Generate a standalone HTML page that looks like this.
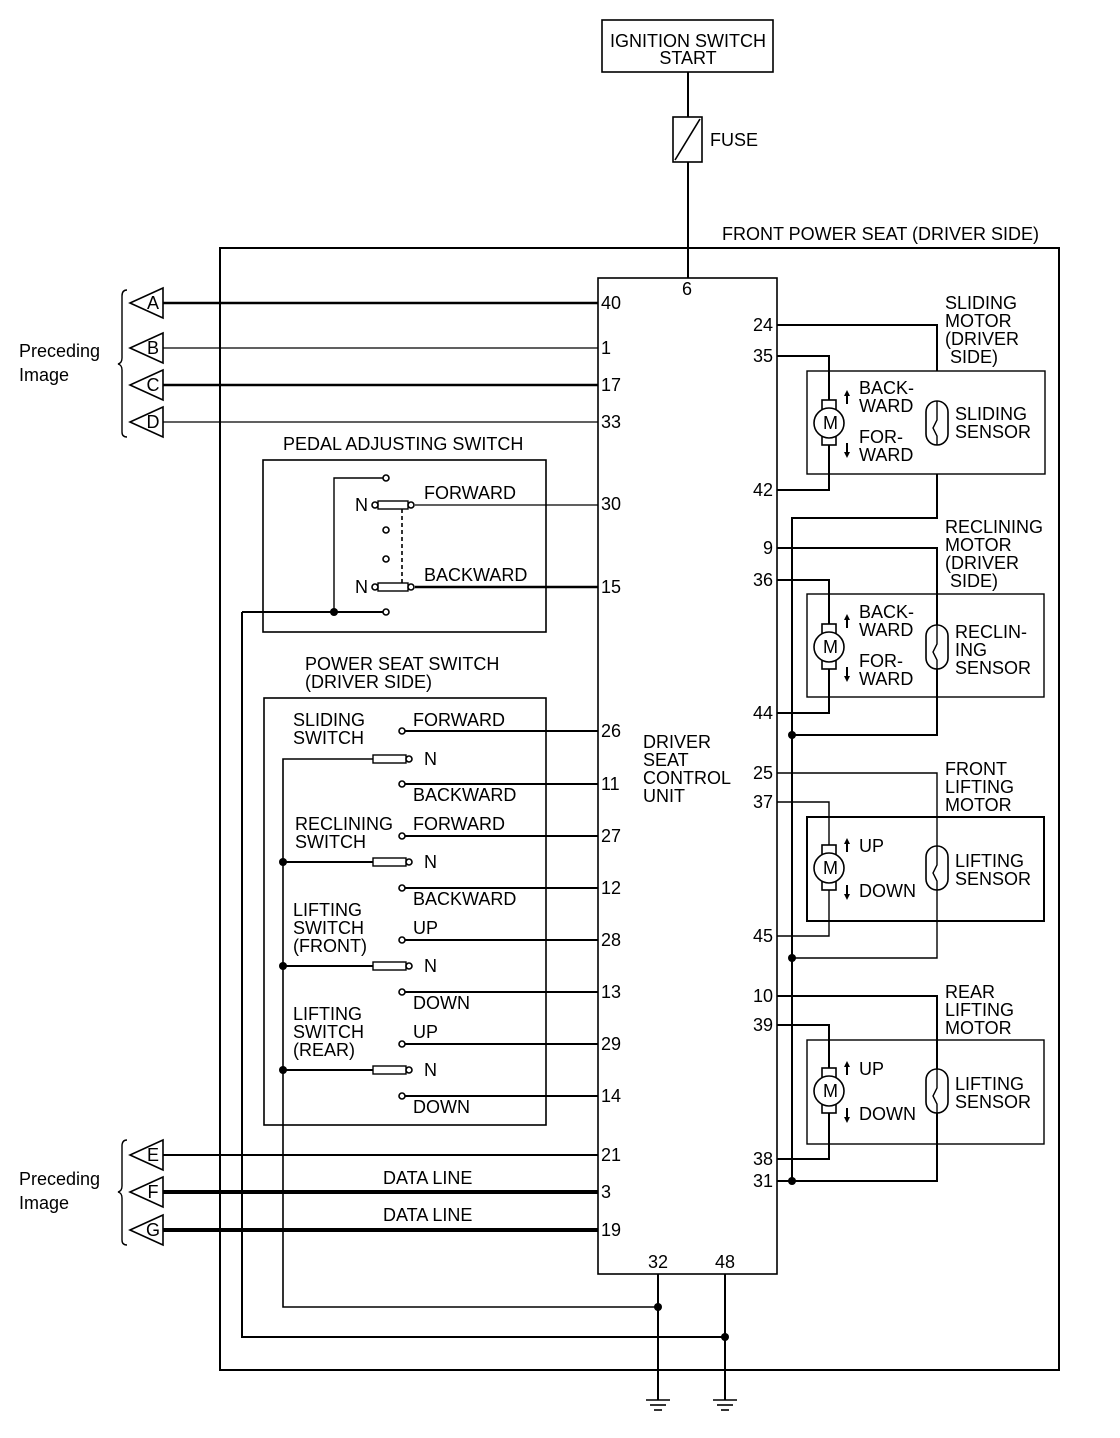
<!DOCTYPE html>
<html><head><meta charset="utf-8"><style>
html,body{margin:0;padding:0;background:#fff}
svg{display:block}
text{font-family:"Liberation Sans",sans-serif;font-size:18px;fill:#000}
</style></head><body>
<svg width="1120" height="1438" viewBox="0 0 1120 1438" xmlns="http://www.w3.org/2000/svg">
<g fill="none" stroke="#000" stroke-width="1.6">
<rect x="602" y="20" width="171" height="52"/>
<line x1="688" y1="72" x2="688" y2="117" stroke-width="2"/>
<rect x="673" y="117" width="29" height="45"/>
<line x1="675" y1="160" x2="700" y2="119"/>
<line x1="688" y1="162" x2="688" y2="278" stroke-width="2"/>
<rect x="220" y="248" width="839" height="1122" stroke-width="2"/>
<rect x="598" y="278" width="179" height="996"/>
<path d="M163 288 L130 303 L163 318 Z"/>
<path d="M163 333 L130 348 L163 363 Z"/>
<path d="M163 370 L130 385 L163 400 Z"/>
<path d="M163 407 L130 422 L163 437 Z"/>
<path d="M163 1140 L130 1155 L163 1170 Z"/>
<path d="M163 1177 L130 1192 L163 1207 Z"/>
<path d="M163 1215 L130 1230 L163 1245 Z"/>
<path d="M127 290 Q122 290 122 296 L122 358 Q122 363 118 364 Q122 365 122 370 L122 432 Q122 437 127 437" stroke-width="1.4"/>
<path d="M127 1140 Q122 1140 122 1146 L122 1186 Q122 1191 118 1192 Q122 1193 122 1198 L122 1240 Q122 1245 127 1245" stroke-width="1.4"/>
<line x1="163" y1="303" x2="598" y2="303" stroke-width="2.4"/>
<line x1="163" y1="348" x2="598" y2="348" stroke-width="1.2"/>
<line x1="163" y1="385" x2="598" y2="385" stroke-width="2.4"/>
<line x1="163" y1="422" x2="598" y2="422" stroke-width="1.2"/>
<line x1="163" y1="1155" x2="598" y2="1155" stroke-width="2"/>
<line x1="163" y1="1192" x2="598" y2="1192" stroke-width="4"/>
<line x1="163" y1="1230" x2="598" y2="1230" stroke-width="4"/>
<rect x="263" y="460" width="283" height="172"/>
<polyline points="383,478 334,478 334,612" stroke-width="1.4"/>
<line x1="242" y1="612" x2="383" y2="612" stroke-width="2"/>
<polyline points="242,612 242,1337 725,1337" stroke-width="2"/>
<rect x="378" y="501" width="30" height="8" stroke-width="1.4"/>
<rect x="378" y="583" width="30" height="8" stroke-width="1.4"/>
<line x1="402" y1="509" x2="402" y2="583" stroke-dasharray="4,3" stroke-width="1.6"/>
<line x1="415" y1="505" x2="598" y2="505" stroke-width="1.2"/>
<line x1="415" y1="587" x2="598" y2="587" stroke-width="2.4"/>
<rect x="264" y="698" width="282" height="427"/>
<polyline points="373,759 283,759 283,1307 658,1307" stroke-width="1.6"/>
<line x1="283" y1="862" x2="373" y2="862" stroke-width="2"/>
<line x1="283" y1="966" x2="373" y2="966" stroke-width="2"/>
<line x1="283" y1="1070" x2="373" y2="1070" stroke-width="2"/>
<rect x="373" y="755" width="33" height="8" stroke-width="1.4"/>
<rect x="373" y="858" width="33" height="8" stroke-width="1.4"/>
<rect x="373" y="962" width="33" height="8" stroke-width="1.4"/>
<rect x="373" y="1066" width="33" height="8" stroke-width="1.4"/>
<g stroke-width="2">
<line x1="405" y1="731" x2="598" y2="731"/>
<line x1="405" y1="784" x2="598" y2="784"/>
<line x1="405" y1="836" x2="598" y2="836"/>
<line x1="405" y1="888" x2="598" y2="888"/>
<line x1="405" y1="940" x2="598" y2="940"/>
<line x1="405" y1="992" x2="598" y2="992"/>
<line x1="405" y1="1044" x2="598" y2="1044"/>
<line x1="405" y1="1096" x2="598" y2="1096"/>
</g>
<line x1="658" y1="1274" x2="658" y2="1400" stroke-width="2"/>
<line x1="725" y1="1274" x2="725" y2="1400" stroke-width="2"/>
<line x1="646" y1="1400" x2="670" y2="1400"/><line x1="650" y1="1405" x2="666" y2="1405"/><line x1="654" y1="1410" x2="662" y2="1410"/>
<line x1="713" y1="1400" x2="737" y2="1400"/><line x1="717" y1="1405" x2="733" y2="1405"/><line x1="721" y1="1410" x2="729" y2="1410"/>
<polyline points="937,474 937,518 792,518 792,1181" stroke-width="2"/>
<polyline points="777,325 937,325 937,371" stroke-width="2"/>
<polyline points="777,356 829,356 829,400" stroke-width="2"/>
<polyline points="829,445 829,490 777,490" stroke-width="2"/>
<rect x="807" y="371" width="238" height="103" stroke-width="1.4"/>
<polyline points="777,548 937,548 937,735 792,735" stroke-width="2"/>
<polyline points="777,580 829,580 829,624" stroke-width="2"/>
<polyline points="829,669 829,713 777,713" stroke-width="2"/>
<rect x="807" y="594" width="237" height="103" stroke-width="1.4"/>
<polyline points="777,773 937,773 937,958 792,958" stroke-width="1.4"/>
<polyline points="777,802 829,802 829,845" stroke-width="1.4"/>
<polyline points="829,890 829,936 777,936" stroke-width="1.4"/>
<rect x="807" y="817" width="237" height="104" stroke-width="2"/>
<polyline points="777,996 937,996 937,1181 777,1181" stroke-width="2"/>
<polyline points="777,1025 829,1025 829,1068" stroke-width="2"/>
<polyline points="829,1113 829,1159 777,1159" stroke-width="2"/>
<rect x="807" y="1040" width="237" height="104" stroke-width="1.4"/>
</g>
<g fill="#fff" stroke="#000" stroke-width="1.6">
<rect x="822" y="400" width="14" height="45"/><circle cx="829" cy="423" r="15"/>
<rect x="822" y="624" width="14" height="45"/><circle cx="829" cy="647" r="15"/>
<rect x="822" y="845" width="14" height="45"/><circle cx="829" cy="868" r="15"/>
<rect x="822" y="1068" width="14" height="45"/><circle cx="829" cy="1091" r="15"/>
<rect x="926" y="401" width="22" height="44" rx="11"/>
<rect x="926" y="625" width="22" height="44" rx="11"/>
<rect x="926" y="846" width="22" height="44" rx="11"/>
<rect x="926" y="1069" width="22" height="44" rx="11"/>
<circle cx="386" cy="478" r="3"/><circle cx="375" cy="505" r="3"/><circle cx="411" cy="505" r="3"/>
<circle cx="386" cy="530" r="3"/><circle cx="386" cy="559" r="3"/>
<circle cx="375" cy="587" r="3"/><circle cx="411" cy="587" r="3"/><circle cx="386" cy="612" r="3"/>
<circle cx="402" cy="731" r="3"/><circle cx="402" cy="784" r="3"/><circle cx="402" cy="836" r="3"/><circle cx="402" cy="888" r="3"/>
<circle cx="402" cy="940" r="3"/><circle cx="402" cy="992" r="3"/><circle cx="402" cy="1044" r="3"/><circle cx="402" cy="1096" r="3"/>
<circle cx="409" cy="759" r="3"/><circle cx="409" cy="862" r="3"/><circle cx="409" cy="966" r="3"/><circle cx="409" cy="1070" r="3"/>
</g>
<g fill="none" stroke="#000" stroke-width="1.4">
<path d="M937 401 L937 420 L933 428 L937 436 L937 445"/>
<path d="M937 625 L937 644 L933 652 L937 660 L937 669"/>
<path d="M937 846 L937 865 L933 873 L937 881 L937 890"/>
<path d="M937 1069 L937 1088 L933 1096 L937 1104 L937 1113"/>
</g>
<g fill="#000">
<circle cx="334" cy="612" r="4"/><circle cx="283" cy="862" r="4"/><circle cx="283" cy="966" r="4"/><circle cx="283" cy="1070" r="4"/>
<circle cx="658" cy="1307" r="4"/><circle cx="725" cy="1337" r="4"/>
<circle cx="792" cy="735" r="4"/><circle cx="792" cy="958" r="4"/><circle cx="792" cy="1181" r="4"/>
<path d="M847 390 l-3 6 h6 z"/><rect x="846" y="395" width="2" height="9"/>
<path d="M847 458 l-3 -6 h6 z"/><rect x="846" y="443" width="2" height="9"/>
<path d="M847 614 l-3 6 h6 z"/><rect x="846" y="619" width="2" height="9"/>
<path d="M847 682 l-3 -6 h6 z"/><rect x="846" y="667" width="2" height="9"/>
<path d="M847 838 l-3 6 h6 z"/><rect x="846" y="843" width="2" height="9"/>
<path d="M847 900 l-3 -6 h6 z"/><rect x="846" y="885" width="2" height="9"/>
<path d="M847 1061 l-3 6 h6 z"/><rect x="846" y="1066" width="2" height="9"/>
<path d="M847 1123 l-3 -6 h6 z"/><rect x="846" y="1108" width="2" height="9"/>
</g>
<text x="688" y="47" text-anchor="middle">IGNITION SWITCH</text>
<text x="688" y="64" text-anchor="middle">START</text>
<text x="710" y="146">FUSE</text>
<text x="722" y="240">FRONT POWER SEAT (DRIVER SIDE)</text>
<text x="687" y="295" text-anchor="middle">6</text>
<g font-size="17">
<text x="153" y="309" text-anchor="middle" font-size="17">A</text><text x="153" y="354" text-anchor="middle" font-size="17">B</text>
<text x="153" y="391" text-anchor="middle" font-size="17">C</text><text x="153" y="428" text-anchor="middle" font-size="17">D</text>
<text x="153" y="1161" text-anchor="middle" font-size="17">E</text><text x="153" y="1198" text-anchor="middle" font-size="17">F</text>
<text x="153" y="1236" text-anchor="middle" font-size="17">G</text>
</g>
<text x="19" y="357">Preceding</text><text x="19" y="381">Image</text>
<text x="19" y="1185">Preceding</text><text x="19" y="1209">Image</text>
<text x="383" y="1184">DATA LINE</text><text x="383" y="1221">DATA LINE</text>
<text x="601" y="309">40</text><text x="601" y="354">1</text><text x="601" y="391">17</text><text x="601" y="428">33</text>
<text x="601" y="510">30</text><text x="601" y="593">15</text><text x="601" y="737">26</text><text x="601" y="790">11</text>
<text x="601" y="842">27</text><text x="601" y="894">12</text><text x="601" y="946">28</text><text x="601" y="998">13</text>
<text x="601" y="1050">29</text><text x="601" y="1102">14</text><text x="601" y="1161">21</text><text x="601" y="1198">3</text>
<text x="601" y="1236">19</text>
<text x="658" y="1268" text-anchor="middle">32</text><text x="725" y="1268" text-anchor="middle">48</text>
<g text-anchor="end">
<text x="773" y="331">24</text><text x="773" y="362">35</text><text x="773" y="496">42</text>
<text x="773" y="554">9</text><text x="773" y="586">36</text><text x="773" y="719">44</text>
<text x="773" y="779">25</text><text x="773" y="808">37</text><text x="773" y="942">45</text>
<text x="773" y="1002">10</text><text x="773" y="1031">39</text><text x="773" y="1165">38</text><text x="773" y="1187">31</text>
</g>
<text x="283" y="450">PEDAL ADJUSTING SWITCH</text>
<text x="355" y="511">N</text><text x="424" y="499">FORWARD</text>
<text x="355" y="593">N</text><text x="424" y="581">BACKWARD</text>
<text x="305" y="670">POWER SEAT SWITCH</text><text x="305" y="688">(DRIVER SIDE)</text>
<text x="293" y="726">SLIDING</text><text x="293" y="744">SWITCH</text>
<text x="413" y="726">FORWARD</text><text x="424" y="765">N</text><text x="413" y="801">BACKWARD</text>
<text x="295" y="830">RECLINING</text><text x="295" y="848">SWITCH</text>
<text x="413" y="830">FORWARD</text><text x="424" y="868">N</text><text x="413" y="905">BACKWARD</text>
<text x="293" y="916">LIFTING</text><text x="293" y="934">SWITCH</text><text x="293" y="952">(FRONT)</text>
<text x="413" y="934">UP</text><text x="424" y="972">N</text><text x="413" y="1009">DOWN</text>
<text x="293" y="1020">LIFTING</text><text x="293" y="1038">SWITCH</text><text x="293" y="1056">(REAR)</text>
<text x="413" y="1038">UP</text><text x="424" y="1076">N</text><text x="413" y="1113">DOWN</text>
<text x="643" y="748">DRIVER</text><text x="643" y="766">SEAT</text><text x="643" y="784">CONTROL</text><text x="643" y="802">UNIT</text>
<text x="945" y="309">SLIDING</text><text x="945" y="327">MOTOR</text><text x="945" y="345">(DRIVER</text><text x="950" y="363">SIDE)</text>
<text x="859" y="394">BACK-</text><text x="859" y="412">WARD</text><text x="859" y="443">FOR-</text><text x="859" y="461">WARD</text>
<text x="955" y="420">SLIDING</text><text x="955" y="438">SENSOR</text>
<text x="945" y="533">RECLINING</text><text x="945" y="551">MOTOR</text><text x="945" y="569">(DRIVER</text><text x="950" y="587">SIDE)</text>
<text x="859" y="618">BACK-</text><text x="859" y="636">WARD</text><text x="859" y="667">FOR-</text><text x="859" y="685">WARD</text>
<text x="955" y="638">RECLIN-</text><text x="955" y="656">ING</text><text x="955" y="674">SENSOR</text>
<text x="945" y="775">FRONT</text><text x="945" y="793">LIFTING</text><text x="945" y="811">MOTOR</text>
<text x="859" y="852">UP</text><text x="859" y="897">DOWN</text>
<text x="955" y="867">LIFTING</text><text x="955" y="885">SENSOR</text>
<text x="945" y="998">REAR</text><text x="945" y="1016">LIFTING</text><text x="945" y="1034">MOTOR</text>
<text x="859" y="1075">UP</text><text x="859" y="1120">DOWN</text>
<text x="955" y="1090">LIFTING</text><text x="955" y="1108">SENSOR</text>
<text x="823" y="429" font-size="16">M</text><text x="823" y="653" font-size="16">M</text><text x="823" y="874" font-size="16">M</text><text x="823" y="1097" font-size="16">M</text>
</svg>
</body></html>
